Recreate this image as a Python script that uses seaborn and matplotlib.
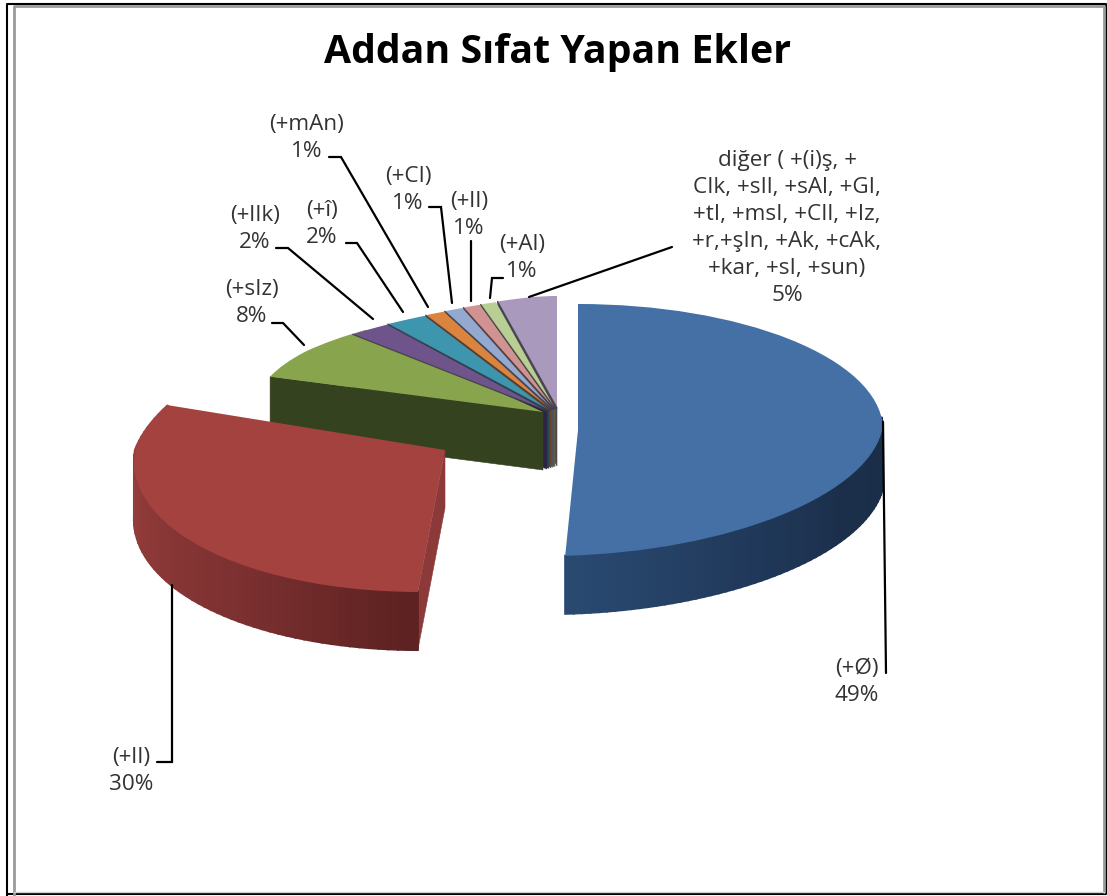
import numpy as np
import matplotlib
matplotlib.use("Agg")
import matplotlib.pyplot as plt
from matplotlib.transforms import Transform
import seaborn as sns

# Data
labels = ["(+Ø)", "(+lI)", "(+sIz)", "(+lIk)", "(+î)", "(+mAn)", "(+CI)", "(+lI)", "(+Al)",
          "diğer ( +(i)ş, +\nCIk, +sIl, +sAl, +GI,\n+tI, +msI, +CIl, +Iz,\n+r,+şIn, +Ak, +cAk,\n+kar, +sI, +sun)"]
values = [49, 30, 8, 2, 2, 1, 1, 1, 1, 5]
colors = ["#4470a5", "#a44240", "#88a54e", "#6f548c", "#3d96ae",
          "#da843d", "#93a9cf", "#d19392", "#b9ce92", "#a999bd"]
side_colors = ["#2a4a72", "#a04442", "#354220", "#2c2440", "#1f4a58",
               "#6e4220", "#4a5468", "#684a4a", "#5c6649", "#4c4a50"]

# Label centres and leader lines, in pixels
label_pos = [(857, 682), (131, 771), (252, 303), (255, 229), (322, 224), (307, 138),
             (408, 190), (469, 215), (522, 258), (787, 228)]
leaders = [[(883, 422), (886, 673)],
           [(172, 585), (172, 762), (157, 762)],
           [(304, 345), (283, 323), (272, 323)],
           [(373, 319), (288, 248), (276, 248)],
           [(403, 312), (357, 243), (346, 243)],
           [(428, 307), (341, 157), (329, 157)],
           [(452, 303), (441, 207), (429, 207)],
           [(471, 301), (471, 241)],
           [(490, 298), (492, 278), (503, 278)],
           [(529, 297), (672, 247)]]

DEPTH = 58


class SliceWarp(Transform):
    # maps the unit pie to pixels for one slice, with the skew of the 3d view
    input_dims = 2
    output_dims = 2

    def __init__(self, px, py, rx, ry, rot=0, front=0, back=0, squeeze=0):
        super().__init__()
        self.px, self.py, self.rx, self.ry = px, py, rx, ry
        self.rot, self.front, self.back, self.squeeze = np.radians(rot), front, back, squeeze

    def transform_non_affine(self, xy):
        xy = np.asarray(xy, dtype=float)
        x = xy[:, 0] * np.cos(self.rot) - xy[:, 1] * np.sin(self.rot)
        y = xy[:, 0] * np.sin(self.rot) + xy[:, 1] * np.cos(self.rot)
        up = np.clip(y, 0, None)
        down = np.clip(y, None, 0)
        x = self.rx * x * (1 - self.squeeze * up ** 5) + self.back * up + self.front * down
        return np.column_stack([self.px + x, self.py - self.ry * y])


sns.set_style("white")
plt.rcParams['font.family'] = ['Open Sans', 'DejaVu Sans']

fig = plt.figure(figsize=(11.07, 8.96), dpi=100)
ax = fig.add_axes([0, 0, 1, 1])

wedges, _ = ax.pie(values, colors=sns.color_palette(colors), startangle=90, counterclock=False,
                   wedgeprops={"linewidth": 0})

# One warp per slice: the first two are pulled out of the pie, the rest stay together
shift = [14, 10, 8, 6, 4.5, 3, 2, 0]
warps = [SliceWarp(578, 430, 305, 126, front=32),
         SliceWarp(445, 450, 310, 142, rot=-4, front=25, back=54)]
for i, s in enumerate(shift):
    warps.append(SliceWarp(557 - s, 408 + s * 0.3, 296 - s, 112, squeeze=0.45))
warps[2] = SliceWarp(543, 412, 288, 112, rot=-4, squeeze=0.45)

# Paint order: back slices first, the big ones last
order = [9, 8, 7, 6, 5, 4, 3, 2, 1, 0]
z = 2
for i in order:
    w, warp = wedges[i], warps[i]
    t1, t2 = np.radians(w.theta1), np.radians(w.theta2)
    if i < 2:
        z = max(z, 40)

    # cut face on the left edge of the slice
    if i >= 1:
        a = warp.transform(np.array([[0, 0], [np.cos(t2), np.sin(t2)]]))
        face = np.vstack([a, a[::-1] + [0, DEPTH]])
        ax.fill(face[:, 0], face[:, 1], color="#8b3a39" if i == 1 else side_colors[i], lw=0.4, zorder=z)
        z += 1
        if i > 2:
            ax.plot(a[:, 0], a[:, 1], color="#3a3545", lw=0.9, alpha=0.8, zorder=39)

    # outer rim, in bands
    if i < 2:
        if i == 0:
            steps = np.linspace(np.radians(6), t1, 60)
            shades = sns.blend_palette(["#1a2d47", "#1b2f4b", "#223c5e", "#2a4a72"], 60)
        else:
            steps = np.linspace(t1, t2, 60)
            shades = sns.blend_palette(["#a64644", "#8f3a39", "#7c3030", "#5b2120"], 60)
        for k in range(59):
            arc = np.linspace(steps[k], steps[k + 1], 4)
            top = warp.transform(np.column_stack([np.cos(arc), np.sin(arc)]))
            band = np.vstack([top, top[::-1] + [0, DEPTH]])
            ax.fill(band[:, 0], band[:, 1], color=shades[k], lw=1.5, zorder=z)
        z += 1

    w.set_transform(warp + ax.transData)
    if i < 2:
        w.set_zorder(z)
        z += 1
    else:
        # green goes under its neighbours, the cut faces stay under every top
        w.set_zorder(30 + (i == 2) * -1 + (9 - i) * 0.1)

ax.set_aspect("auto")
ax.set_xlim(0, 1107)
ax.set_ylim(896, 0)
ax.axis("off")

# Labels
for label, v, pos, line in zip(labels, values, label_pos, leaders):
    ax.text(pos[0], pos[1], f"{label}\n{v}%", ha="center", va="center", multialignment="center",
            fontsize=16.2, color="#333333", linespacing=1.38, zorder=60)
    pts = np.array(line)
    ax.plot(pts[:, 0], pts[:, 1], color="black", lw=1.6, solid_joinstyle="miter", zorder=50)

ax.text(558, 52, "Addan Sıfat Yapan Ekler", ha="center", va="center",
        fontsize=28.3, fontweight="bold", color="black", zorder=60)

# Double frame of the screenshot
ax.plot([7, 7, 1106, 1106, 7], [896, 4, 4, 894, 894], color="black", lw=1.5, zorder=70, clip_on=False)
ax.plot([13.5, 13.5, 1104, 1104], [896, 6.5, 6.5, 892], color="#9a9a9a", lw=2, zorder=70)
ax.plot([13.5, 1104], [892.5, 892.5], color="#cfcfcf", lw=1, zorder=70)

fig.savefig("out.png", dpi=100)
